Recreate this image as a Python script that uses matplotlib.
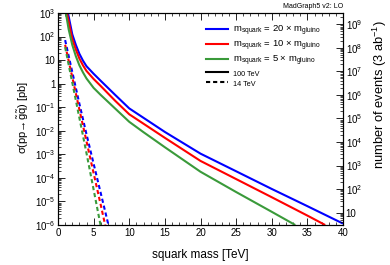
import numpy as np
import matplotlib
matplotlib.use("Agg")
import matplotlib.pyplot as plt
from matplotlib.ticker import LogLocator, FuncFormatter, MultipleLocator, NullFormatter
from matplotlib.lines import Line2D

plt.rcParams['font.family'] = ['Liberation Sans', 'DejaVu Sans']
plt.rcParams['mathtext.fontset'] = 'custom'
plt.rcParams['mathtext.rm'] = 'Liberation Sans'
plt.rcParams['mathtext.it'] = 'Liberation Sans:italic'
plt.rcParams['mathtext.bf'] = 'Liberation Sans:bold'

# 100 TeV (solid) cross sections [pb] vs squark mass [TeV]
m_100_r20 = [1.2, 1.4, 2.0, 2.5, 3.0, 3.5, 4.0, 5.0, 6.0, 8.0, 10.0, 12.0, 15.0, 20.0, 25.0, 30.0, 35.0, 40.0]
sig_100_r20 = [2239, 1000, 126, 44.7, 18.6, 9.55, 5.5, 2.63, 1.32, 0.339, 0.0891, 0.0355,
               8.91e-3, 1.07e-3, 1.91e-4, 3.39e-5, 6.31e-6, 1.15e-6]
m_100_r10 = [1.1, 1.25, 2.0, 2.5, 3.0, 3.5, 4.0, 5.0, 6.0, 8.0, 10.0, 12.0, 15.0, 20.0, 25.0, 30.0, 35.0, 37.5]
sig_100_r10 = [1995, 1000, 79.4, 28.2, 11.7, 6.03, 3.47, 1.58, 0.794, 0.191, 0.0501, 0.01995,
               5.01e-3, 5.25e-4, 8.91e-5, 1.51e-5, 2.51e-6, 1.0e-6]
m_100_r5 = [1.0, 1.1, 1.5, 2.0, 2.5, 3.0, 3.5, 4.0, 5.0, 6.0, 8.0, 10.0, 12.0, 15.0, 20.0, 25.0, 30.0, 33.3]
sig_100_r5 = [1585, 1000, 200, 44.7, 14.8, 6.03, 3.02, 1.66, 0.661, 0.331, 0.0891, 0.024,
              8.71e-3, 2.0e-3, 1.82e-4, 2.51e-5, 3.63e-6, 1.0e-6]

# 14 TeV (dashed)
m_14_r20 = [1.0, 2.0, 3.0, 4.0, 5.0, 6.0, 7.0, 7.2]
sig_14_r20 = [70.8, 3.16, 0.141, 7.08e-3, 3.98e-4, 2.24e-5, 1.26e-6, 7.08e-7]
m_14_r10 = [1.0, 2.0, 3.0, 4.0, 5.0, 6.0, 6.8]
sig_14_r10 = [44.7, 1.91, 0.0794, 3.55e-3, 1.58e-4, 7.08e-6, 5.62e-7]
m_14_r5 = [1.0, 2.0, 3.0, 4.0, 5.0, 6.0]
sig_14_r5 = [35.5, 1.12, 0.0355, 1.12e-3, 3.16e-5, 8.91e-7]

lumi_pb = 3e6  # 3 ab^-1 in pb^-1

BLUE = '#0000ff'
RED = '#ff0000'
GREEN = '#3a9a3a'
LW = 1.5
DASH = (2.0, 1.4)


def pow10(v, pos):
    e = int(round(np.log10(v)))
    if e == 0:
        return '1'
    if e == 1:
        return '10'
    return r'$10^{%d}$' % e


fig = plt.figure(figsize=(3.9, 2.65), dpi=100)
ax = fig.add_axes([58 / 390, 1 - 225 / 265, (343 - 58) / 390, (225 - 13) / 265])

for m, s, c in [(m_100_r20, sig_100_r20, BLUE), (m_100_r10, sig_100_r10, RED),
                (m_100_r5, sig_100_r5, GREEN)]:
    ax.plot(m, s, color=c, lw=LW, solid_capstyle='butt')
for m, s, c in [(m_14_r20, sig_14_r20, BLUE), (m_14_r10, sig_14_r10, RED),
                (m_14_r5, sig_14_r5, GREEN)]:
    ax.plot(m, s, color=c, lw=LW, dashes=DASH)

ax.set_yscale('log')
ax.set_xlim(0, 40)
ax.set_ylim(1e-6, 1e3)
ax.xaxis.set_major_locator(MultipleLocator(5))
ax.xaxis.set_minor_locator(MultipleLocator(1))
ax.yaxis.set_major_locator(LogLocator(base=10, numticks=20))
ax.yaxis.set_minor_locator(LogLocator(base=10, subs=np.arange(2, 10), numticks=20))
ax.yaxis.set_major_formatter(FuncFormatter(pow10))
ax.yaxis.set_minor_formatter(NullFormatter())
ax.tick_params(which='both', direction='in', top=True, right=False, labelsize=7, pad=2)
ax.tick_params(which='major', length=5, width=0.6)
ax.tick_params(which='minor', length=2.5, width=0.5)
for sp in ax.spines.values():
    sp.set_linewidth(0.8)

ax2 = ax.twinx()
ax2.set_yscale('log')
ax2.set_ylim(1e-6 * lumi_pb, 1e3 * lumi_pb)
ax2.yaxis.set_major_locator(LogLocator(base=10, numticks=20))
ax2.yaxis.set_minor_locator(LogLocator(base=10, subs=np.arange(2, 10), numticks=20))
ax2.yaxis.set_major_formatter(FuncFormatter(pow10))
ax2.yaxis.set_minor_formatter(NullFormatter())
ax2.tick_params(which='both', direction='in', labelsize=7, pad=2)
ax2.tick_params(which='major', length=5, width=0.6)
ax2.tick_params(which='minor', length=2.5, width=0.5)

ax.set_xlabel('squark mass [TeV]', fontsize=8.5, labelpad=8)
fig.text(23 / 390, 1 - 117 / 265, 'σ(pp→' + r'$\tilde{\rm g}\tilde{\rm q}$' + ') [pb]',
         rotation=90, ha='center', va='center', fontsize=8)
fig.text(380 / 390, 1 - 20 / 265, r'number of events (3 ab$^{-1}$)',
         rotation=90, ha='center', va='top', fontsize=9.3)
fig.text(343 / 390, 1 - 7 / 265, 'MadGraph5 v2: LO', ha='right', va='center', fontsize=5)

handles = [Line2D([], [], color=BLUE, lw=LW),
           Line2D([], [], color=RED, lw=LW),
           Line2D([], [], color=GREEN, lw=LW),
           Line2D([], [], color='black', lw=LW),
           Line2D([], [], color='black', lw=LW, dashes=DASH)]
labels = [r'm$_{\rm squark}$ = 20 $\times$ m$_{\rm gluino}$',
          r'm$_{\rm squark}$ = 10 $\times$ m$_{\rm gluino}$',
          r'm$_{\rm squark}$ = 5 $\times$ m$_{\rm gluino}$',
          '100 TeV', '14 TeV']
leg = ax.legend(handles, labels, loc='upper left', bbox_to_anchor=(0.515, 0.955), frameon=False,
                fontsize=6.8, handlelength=2.35, handletextpad=0.5, labelspacing=0.12,
                borderaxespad=0, borderpad=0.1)
for t in leg.get_texts()[3:]:
    t.set_fontsize(5.2)

fig.savefig('out.png', dpi=100)
